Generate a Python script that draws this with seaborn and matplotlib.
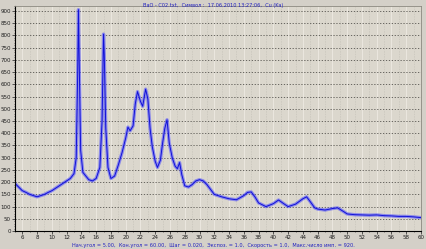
import numpy as np
import pandas as pd
import matplotlib
matplotlib.use("Agg")
import matplotlib.pyplot as plt
import seaborn as sns

# diffraction pattern (2theta, counts)
two_theta = [5.0, 5.5, 6.0, 6.5, 7.0, 7.5, 8.0, 8.5, 9.0, 9.5, 10.0, 10.5, 11.0, 11.5,
             12.0, 12.5, 13.0, 13.3, 13.5, 13.6, 13.7, 13.9, 14.2, 14.6, 15.0, 15.5,
             16.0, 16.5, 16.8, 17.0, 17.1, 17.3, 17.6, 18.0, 18.5, 19.0, 19.5, 20.0,
             20.3, 20.6, 21.0, 21.3, 21.6, 22.0, 22.3, 22.7, 23.0, 23.3, 23.6, 24.0,
             24.3, 24.7, 25.0, 25.3, 25.6, 25.9, 26.3, 26.7, 27.0, 27.3, 27.6, 28.0,
             28.5, 29.0, 29.5, 30.0, 30.5, 31.0, 31.5, 32.0, 33.0, 34.0, 35.0, 36.0,
             36.5, 37.0, 37.5, 38.0, 39.0, 40.0, 40.7, 41.5, 42.0, 43.0, 44.0, 44.5,
             45.0, 45.6, 46.0, 47.0, 48.0, 48.7, 49.5, 50.0, 51.0, 52.0, 53.0, 54.0,
             55.0, 56.0, 57.0, 58.0, 59.0, 60.0]
counts = [195, 180, 165, 158, 150, 145, 140, 145, 150, 158, 165, 175, 185, 195,
          205, 215, 235, 300, 650, 905, 700, 330, 240, 225, 210, 205,
          215, 260, 450, 805, 720, 420, 260, 215, 225, 270, 320, 380,
          425, 410, 430, 520, 570, 530, 510, 580, 540, 420, 345, 285,
          260, 290, 360, 420, 455, 360, 300, 265, 255, 280, 230, 185,
          180, 190, 205, 210, 205, 190, 170, 150, 140, 132, 128, 145,
          158, 160, 140, 115, 100, 112, 127, 110, 100, 110, 132, 140,
          120, 95, 90, 86, 92, 95, 80, 70, 67, 66, 65, 66,
          63, 62, 60, 60, 58, 55]

title_text = "BaO - C02.txt,  Символ :  17.06.2010 13:27:06,  Cu (Ka)"
footer_text = ("Нач.угол = 5.00,  Кон.угол = 60.00,  Шаг = 0.020,  Экспоз. = 1.0,  "
               "Скорость = 1.0,  Макс.число имп. = 920.")

df = pd.DataFrame({"two_theta": two_theta, "counts": counts})

bg = "#d4d0c8"
sns.set_style("ticks")
plt.rcParams["font.family"] = ["DejaVu Sans"]

fig = plt.figure(figsize=(4.27, 2.49), dpi=100, facecolor=bg)
ax = fig.add_axes([0.035, 0.072, 0.951, 0.904])
ax.set_facecolor("#dbd7cd")

# noisy trace drawn as a soft band plus a thin core line
sns.lineplot(data=df, x="two_theta", y="counts", ax=ax, color="#4a4aff",
             linewidth=2.4, alpha=0.55)
sns.lineplot(data=df, x="two_theta", y="counts", ax=ax, color="#1010d8",
             linewidth=0.7)

ax.set_xlim(5, 60)
ax.set_ylim(0, 920)
ax.set_xticks(np.arange(6, 61, 2))
ax.set_xticks(np.arange(5, 61, 1), minor=True)
ax.set_yticks(np.arange(0, 901, 50))
ax.set_yticks(np.arange(0, 921, 10), minor=True)

ax.grid(False)
for xv in np.arange(6, 61, 2):
    ax.axvline(xv, color="#ebe7df", linewidth=0.7, zorder=0)
for xv in np.arange(5, 61, 2):
    ax.axvline(xv, color="#b3b0a8", linewidth=0.4, linestyle=(0, (1, 2)), zorder=0)
for yv in np.arange(50, 901, 50):
    ax.axhline(yv, color="#55534e", linewidth=0.6, linestyle=(0, (1.5, 2)), zorder=0)

ax.tick_params(axis="both", which="major", labelsize=4, length=2, width=0.5,
               pad=1, colors="#202020")
ax.tick_params(axis="both", which="minor", length=1, width=0.4)
ax.set_xlabel("")
ax.set_ylabel("")

for side in ["left", "bottom"]:
    ax.spines[side].set_color("black")
    ax.spines[side].set_linewidth(0.8)
for side in ["top", "right"]:
    ax.spines[side].set_visible(True)
    ax.spines[side].set_color("#8c8980")
    ax.spines[side].set_linewidth(0.6)

fig.text(0.5, 0.988, title_text, ha="center", va="top", fontsize=3.6, color="#2020c0")
fig.text(0.5, 0.005, footer_text, ha="center", va="bottom", fontsize=3.6, color="#2020c0")

fig.savefig("out.png", dpi=100, facecolor=bg)
